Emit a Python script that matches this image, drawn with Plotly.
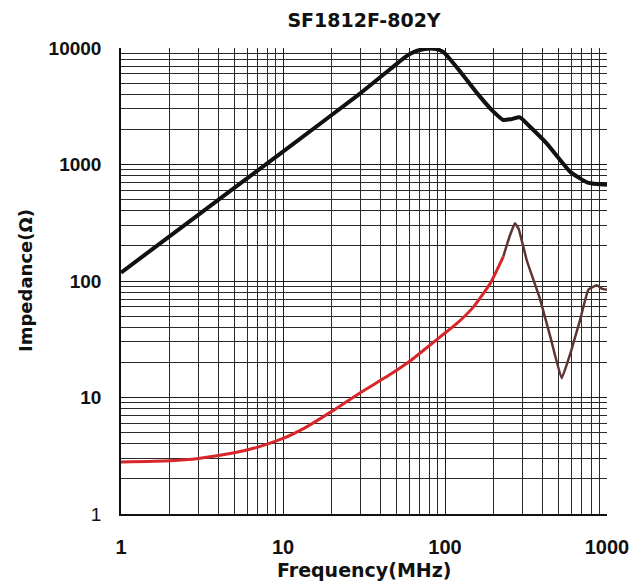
import plotly.graph_objects as go

# |Z| impedance curve (MHz, ohm)
z_freq = [1, 3, 10, 30, 48, 57, 65, 75, 88, 98, 110, 124, 160, 199, 229, 255, 290, 330, 424, 596, 760, 1000]
z_vals = [118, 370, 1290, 4085, 6920, 8400, 9300, 9800, 9800, 9200, 7700, 6300, 4000, 2840, 2410, 2450, 2540, 2150, 1520, 860, 700, 670]

# R curve, low-frequency part (red)
r_freq = [1, 2, 3, 5, 7, 10, 14, 20, 30, 45, 62, 93, 118, 150, 190, 229]
r_vals = [2.8, 2.87, 3.0, 3.35, 3.75, 4.45, 5.6, 7.6, 11, 15.5, 21, 33, 43, 60, 95, 162]

# R curve, resonance part (dark)
r2_freq = [229, 250, 270, 285, 320, 386, 450, 525, 600, 681, 767, 864, 930, 1000]
r2_vals = [162, 240, 313, 280, 150, 70, 32, 14.6, 25, 46, 84, 92, 86, 84]

x_ticks = [1, 10, 100, 1000]
x_labels = ["1", "10", "100", "1000"]
y_ticks = [1, 10, 100, 1000, 10000]
y_labels = ["1", "10", "100", "1000", "10000"]

fig = go.Figure()
fig.add_trace(go.Scatter(x=z_freq, y=z_vals, mode="lines",
                         line=dict(color="#111111", width=4, shape="spline", smoothing=0.5),
                         showlegend=False))
fig.add_trace(go.Scatter(x=r_freq, y=r_vals, mode="lines",
                         line=dict(color="#d8262a", width=3, shape="spline", smoothing=0.5),
                         showlegend=False))
fig.add_trace(go.Scatter(x=r2_freq, y=r2_vals, mode="lines",
                         line=dict(color="#5e3434", width=2.5, shape="spline", smoothing=0.3),
                         showlegend=False))

# page body adds an 8px offset, so the figure is drawn 8px smaller
OFF = 8
W, H = 644 - OFF, 585 - OFF
L, R, T, B = 121 - OFF, 37, 48 - OFF, 71
PW, PH = W - L - R, H - T - B
fig.update_layout(
    width=W, height=H,
    margin=dict(l=L, r=R, t=T, b=B, autoexpand=False),
    paper_bgcolor="white", plot_bgcolor="white",
    font=dict(family="Liberation Sans, Arial", color="#111"),
    title=dict(text="<b>SF1812F-802Y</b>", x=(L + PW / 2) / W, xanchor="center",
               y=1 - (20 - OFF) / H, yanchor="middle",
               font=dict(size=19, family="DejaVu Sans")),
    annotations=[
        dict(text="<b>Frequency(MHz)</b>", xref="paper", yref="paper",
             x=0.5, y=-(570 - 514) / PH, xanchor="center", yanchor="middle",
             showarrow=False, font=dict(size=19, family="DejaVu Sans", color="#111")),
        dict(text="<b>Impedance(Ω)</b>", xref="paper", yref="paper",
             x=-(121 - 25) / PW, y=0.5, xanchor="center", yanchor="middle",
             textangle=-90, showarrow=False,
             font=dict(size=18, family="DejaVu Sans", color="#111")),
    ],
)
fig.update_xaxes(
    type="log", range=[0, 3], automargin=False,
    tickvals=x_ticks, ticktext=[f"<b>{t}</b>" for t in x_labels],
    tickfont=dict(size=20), ticks="", ticklabelstandoff=14,
    showgrid=True, gridcolor="#1a1a1a", gridwidth=1.2,
    minor=dict(dtick="D1", showgrid=True, gridcolor="#2a2a2a", gridwidth=1, ticks=""),
    showline=True, linecolor="#111", linewidth=1.5,
    zeroline=False,
)
fig.update_yaxes(
    type="log", range=[0, 4], automargin=False,
    tickvals=y_ticks, ticktext=["1"] + [f"<b>{t}</b>" for t in y_labels[1:]],
    tickfont=dict(size=19), ticks="", ticklabelstandoff=14,
    showgrid=True, gridcolor="#1a1a1a", gridwidth=1.2,
    minor=dict(dtick="D1", showgrid=True, gridcolor="#2a2a2a", gridwidth=1, ticks=""),
    showline=True, linecolor="#111", linewidth=1.5,
    zeroline=False,
)

fig.write_html("out.html")
